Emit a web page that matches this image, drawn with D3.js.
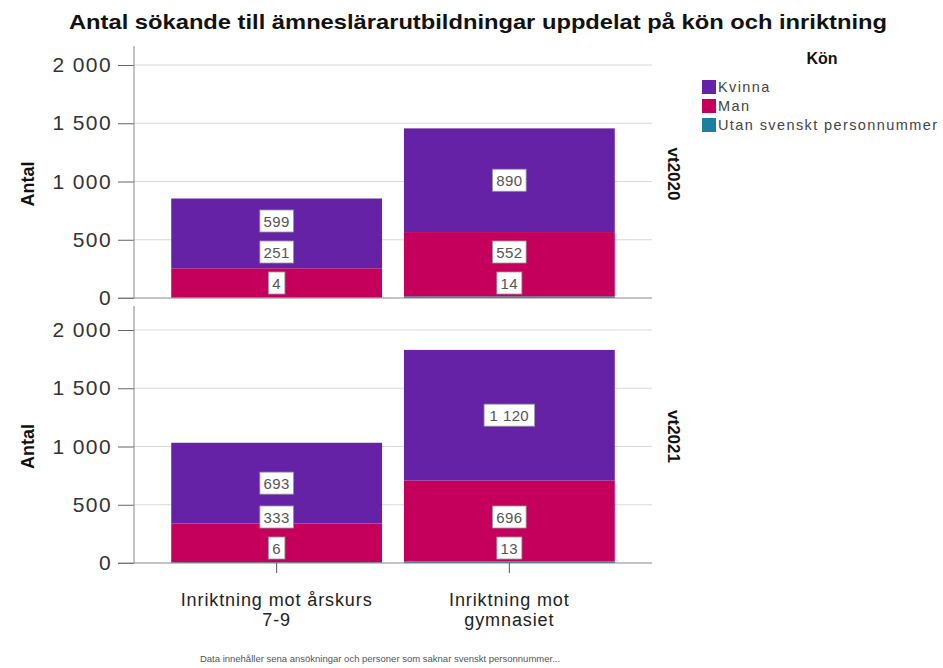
<!DOCTYPE html>
<html>
<head>
<meta charset="utf-8">
<script src="https://cdn.jsdelivr.net/npm/d3@7"></script>
<style>
  body { margin: 0; background: #fff; }
  text { font-family: "Liberation Sans", Arial, sans-serif; }
</style>
</head>
<body>
<svg width="943" height="668"></svg>
<script>
// data
let categories = ['Inriktning mot årskurs 7-9', 'Inriktning mot gymnasiet']
let categoryLines = [['Inriktning mot årskurs', '7-9'], ['Inriktning mot', 'gymnasiet']]
let terms = ['vt2020', 'vt2021']
let genders = ['Utan svenskt personnummer', 'Man', 'Kvinna'] // bottom to top
let legendOrder = ['Kvinna', 'Man', 'Utan svenskt personnummer']
let kvinna = [[599, 890], [693, 1120]]
let man = [[251, 552], [333, 696]]
let utan = [[4, 14], [6, 13]]
let yTicks = [0, 500, 1000, 1500, 2000]

let colors = d3.scaleOrdinal()
  .domain(['Kvinna', 'Man', 'Utan svenskt personnummer'])
  .range(['#6622a6', '#c4005c', '#1b7fa0'])

let svg = d3.select('svg')
let locale = d3.formatLocale({ decimal: ',', thousands: '\u00a0', grouping: [3], currency: ['', ' kr'] })
let fmt = locale.format(',')

let plot = { left: 134, right: 652 }
let panels = [
  { top: 46, zero: 298 },
  { top: 306, zero: 563 }
]

let xScale = d3.scaleBand()
  .domain(categories)
  .range([plot.left, plot.right])
  .paddingInner(0.094)
  .paddingOuter(0.16)

// title
svg.append('text')
  .attr('x', 478).attr('y', 29)
  .attr('text-anchor', 'middle')
  .attr('font-size', 21).attr('font-weight', 'bold')
  .attr('fill', '#111')
  .attr('textLength', 818).attr('lengthAdjust', 'spacingAndGlyphs')
  .text('Antal sökande till ämneslärarutbildningar uppdelat på kön och inriktning')

terms.forEach((term, ti) => {
  let p = panels[ti]
  let yScale = d3.scaleLinear().domain([0, 2000]).range([p.zero, p.zero - 233])
  let g = svg.append('g')

  // gridlines
  g.selectAll('.grid')
    .data(yTicks.filter(d => d > 0))
    .enter().append('line')
    .attr('x1', plot.left).attr('x2', plot.right)
    .attr('y1', d => yScale(d)).attr('y2', d => yScale(d))
    .attr('stroke', '#d9d9d9')

  // y axis
  let yAxis = d3.axisLeft(yScale).tickValues(yTicks).tickFormat(fmt).tickSize(16).tickPadding(6)
  let ya = g.append('g').attr('transform', `translate(${plot.left},0)`).call(yAxis)
  ya.select('.domain').remove()
  ya.selectAll('line').attr('stroke', '#666')
  ya.selectAll('text').attr('font-size', 21).attr('fill', '#333')
    .attr('letter-spacing', 1.4)
    .attr('font-family', '"Liberation Sans", Arial, sans-serif')

  g.append('line')
    .attr('x1', plot.left).attr('x2', plot.left)
    .attr('y1', p.top).attr('y2', p.zero)
    .attr('stroke', '#888')

  // stacked bars
  let rows = categories.map((c, ci) => ({
    cat: c,
    'Kvinna': kvinna[ti][ci],
    'Man': man[ti][ci],
    'Utan svenskt personnummer': utan[ti][ci]
  }))
  let stacked = d3.stack().keys(genders)(rows)

  stacked.forEach(layer => {
    g.selectAll(null)
      .data(layer)
      .enter().append('rect')
      .attr('x', d => xScale(d.data.cat))
      .attr('width', xScale.bandwidth())
      .attr('y', d => yScale(d[1]))
      .attr('height', d => yScale(d[0]) - yScale(d[1]))
      .attr('fill', colors(layer.key))
  })

  // x axis line
  g.append('line')
    .attr('x1', plot.left - 16).attr('x2', plot.right)
    .attr('y1', p.zero).attr('y2', p.zero)
    .attr('stroke', '#888')

  // value labels, nudged upward so they don't overlap
  categories.forEach((c, ci) => {
    let prev = null
    stacked.forEach(layer => {
      let d = layer[ci]
      let y = yScale((d[0] + d[1]) / 2)
      let limit = prev === null ? p.zero - 15 : prev - 31
      y = Math.min(y, limit)
      prev = y
      let cx = xScale(c) + xScale.bandwidth() / 2
      let label = fmt(d[1] - d[0])
      let w = label.length * 8.5 + 8
      g.append('rect')
        .attr('x', cx - w / 2).attr('y', y - 11)
        .attr('width', w).attr('height', 22)
        .attr('fill', '#fff').attr('stroke', '#999').attr('stroke-width', 0.8)
      g.append('text')
        .attr('x', cx).attr('y', y + 5.5)
        .attr('text-anchor', 'middle')
        .attr('font-size', 15).attr('fill', '#555')
        .attr('letter-spacing', 0.4)
        .text(label)
    })
  })

  // y label
  svg.append('text')
    .attr('transform', `translate(34,${(p.top + p.zero) / 2 + 12}) rotate(-90)`)
    .attr('text-anchor', 'middle')
    .attr('font-size', 18).attr('font-weight', 'bold').attr('fill', '#111')
    .text('Antal')

  // panel label
  svg.append('text')
    .attr('transform', `translate(668,${(p.top + p.zero) / 2 + 2}) rotate(90)`)
    .attr('text-anchor', 'middle')
    .attr('font-size', 17).attr('font-weight', 'bold').attr('fill', '#111')
    .text(term)
})

// x axis ticks and category labels under the lower panel
let bottom = panels[1].zero
svg.selectAll('.xtick')
  .data(categories)
  .enter().append('line')
  .attr('x1', d => xScale(d) + xScale.bandwidth() / 2)
  .attr('x2', d => xScale(d) + xScale.bandwidth() / 2)
  .attr('y1', bottom).attr('y2', bottom + 10)
  .attr('stroke', '#555')

categoryLines.forEach((lines, i) => {
  let cx = xScale(categories[i]) + xScale.bandwidth() / 2
  let t = svg.append('text')
    .attr('text-anchor', 'middle')
    .attr('font-size', 18).attr('fill', '#222')
    .attr('letter-spacing', 0.9)
  lines.forEach((l, j) => {
    t.append('tspan').attr('x', cx).attr('y', 606 + j * 20).text(l)
  })
})

// legend
svg.append('text')
  .attr('x', 822).attr('y', 64)
  .attr('text-anchor', 'middle')
  .attr('font-size', 16).attr('font-weight', 'bold').attr('fill', '#111')
  .text('Kön')

let legend = svg.selectAll('.legend')
  .data(legendOrder)
  .enter().append('g')
  .attr('transform', (d, i) => `translate(702,${80 + i * 19})`)
legend.append('rect')
  .attr('width', 14).attr('height', 14)
  .attr('fill', d => colors(d))
legend.append('text')
  .attr('x', 16).attr('y', 12)
  .attr('font-size', 14.5).attr('fill', '#444')
  .attr('letter-spacing', 1.4)
  .text(d => d)

// footnote
svg.append('text')
  .attr('x', 380).attr('y', 662)
  .attr('text-anchor', 'middle')
  .attr('font-size', 9.5).attr('fill', '#555')
  .text('Data innehåller sena ansökningar och personer som saknar svenskt personnummer...')
</script>
</body>
</html>
